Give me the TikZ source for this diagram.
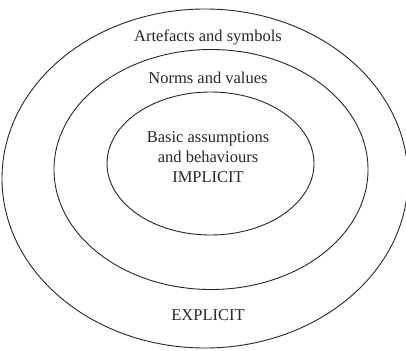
\documentclass[tikz,border=0pt]{standalone}
\usepackage{fontspec}
\setmainfont{Liberation Serif}
\begin{document}
\begin{tikzpicture}[x=1pt,y=-1pt,
  ring/.style={draw=black!85,line width=0.9pt},
  lbl/.style={font=\fontsize{16.5}{20}\selectfont,text=black!85,align=center,inner sep=0pt}]
\useasboundingbox (0,0) rectangle (406,350);
\draw[ring] (205,178.5) ellipse [x radius=203,y radius=169.5];
\draw[ring] (211,169.5) ellipse [x radius=157,y radius=120];
\draw[ring] (210.5,163.5) ellipse [x radius=103.5,y radius=71.5];
\node[lbl] (art) at (208,37) {Artefacts and symbols};
\node[lbl] (norms) at (208,78) {Norms and values};
\node[lbl] (basic) at (208,157) {Basic assumptions\\and behaviours\\IMPLICIT};
\node[lbl] (expl) at (208,315) {EXPLICIT};
\end{tikzpicture}
\end{document}
